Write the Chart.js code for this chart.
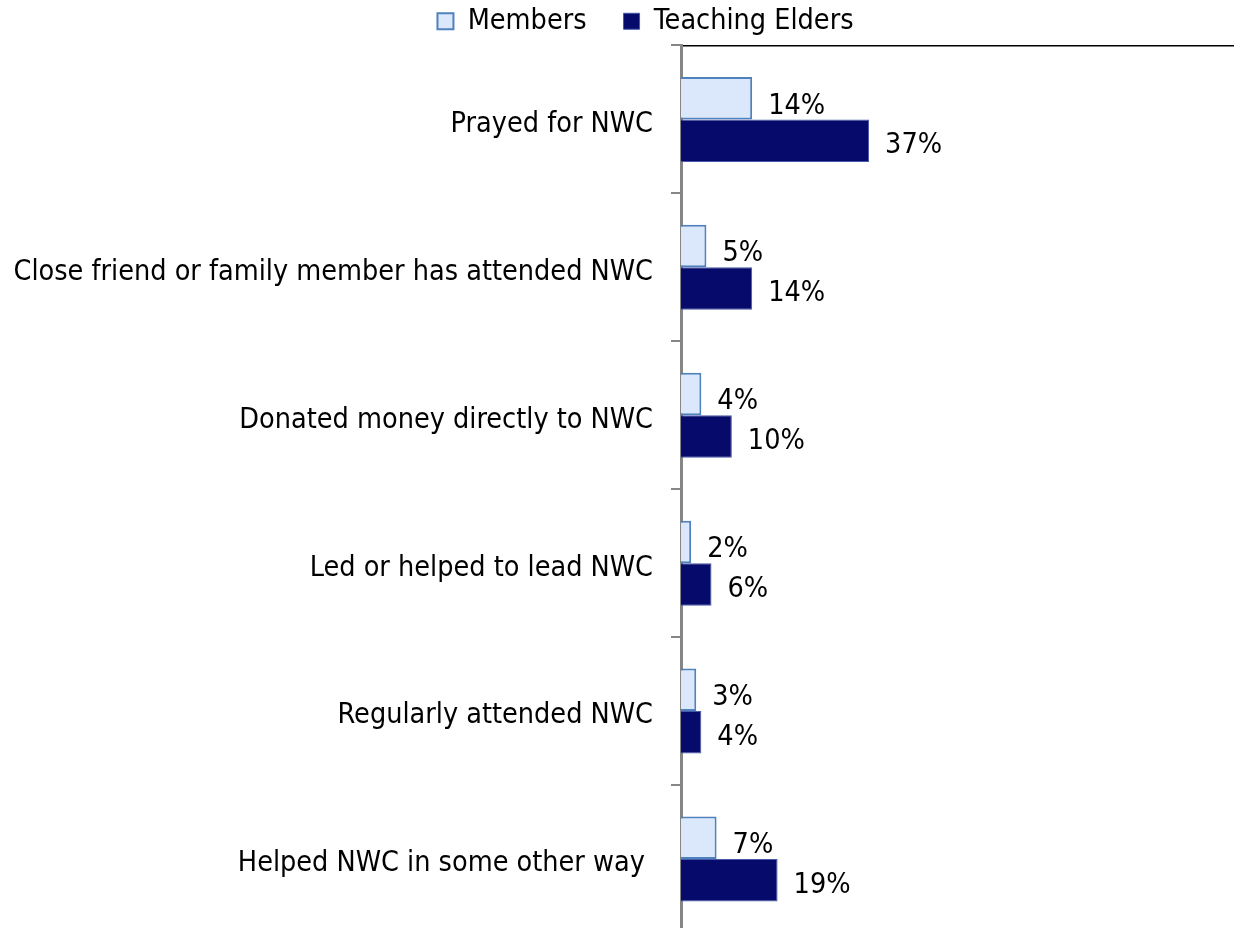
<!DOCTYPE html>
<html>
<head>
<meta charset="utf-8">
<script src="https://cdn.jsdelivr.net/npm/chart.js@4/dist/chart.umd.min.js"></script>
<style>
  html, body { margin: 0; padding: 0; background: #fff; overflow: hidden; }
  #wrap { width: 1291px; height: 998px; margin-top: -30px; }
</style>
</head>
<body>
<div id="wrap"><canvas id="myChart" width="1291" height="998"></canvas></div>
<script>
const categories = [
  "Prayed for NWC",
  "Close friend or family member has attended NWC",
  "Donated money directly to NWC",
  "Led or helped to lead NWC",
  "Regularly attended NWC",
  "Helped NWC in some other way ",
];
const members = [14, 5, 4, 2, 3, 7];
const teachingElders = [37, 14, 10, 6, 4, 19];

const FONT = "'DejaVu Sans Condensed', 'DejaVu Sans', sans-serif";
const FONT_SIZE = 28.5;

// percentage labels to the right of each bar
const valueLabels = {
  id: "valueLabels",
  afterDatasetsDraw(chart) {
    const ctx = chart.ctx;
    ctx.save();
    ctx.font = `${FONT_SIZE}px ${FONT}`;
    ctx.fillStyle = "#000";
    ctx.textAlign = "left";
    ctx.textBaseline = "middle";
    chart.data.datasets.forEach((ds, i) => {
      const meta = chart.getDatasetMeta(i);
      meta.data.forEach((bar, j) => {
        const dy = i === 0 ? 8 : 5;
        ctx.fillText(ds.data[j] + "%", bar.x + 16, bar.y + dy);
      });
    });
    ctx.restore();
  },
};

new Chart(document.getElementById("myChart"), {
  type: "bar",
  data: {
    labels: categories,
    datasets: [
      {
        label: "Members",
        data: members,
        backgroundColor: "#DBE8FB",
        borderColor: "#4F81BD",
        borderWidth: 2,
        barPercentage: 1,
        categoryPercentage: 0.575,
      },
      {
        label: "Teaching Elders",
        data: teachingElders,
        backgroundColor: "#050A6B",
        borderColor: "#4858A8",
        borderWidth: 1,
        barPercentage: 1,
        categoryPercentage: 0.575,
      },
    ],
  },
  options: {
    indexAxis: "y",
    responsive: false,
    animation: false,
    layout: { padding: { top: 0, bottom: 7, left: 0, right: 0 } },
    plugins: {
      tooltip: { enabled: false },
      legend: {
        position: "top",
        labels: {
          color: "#000",
          boxWidth: 16,
          boxHeight: 16,
          padding: 37,
          font: { family: FONT, size: FONT_SIZE },
        },
      },
    },
    scales: {
      x: {
        position: "top",
        min: 0,
        max: 120,
        grid: { display: false, drawTicks: false },
        ticks: { display: false },
        border: { display: true, color: "#000", width: 1.5 },
      },
      y: {
        afterFit: (scale) => {
          scale.width = 681;
        },
        grid: {
          drawOnChartArea: false,
          tickLength: 10,
          color: "#868686",
          lineWidth: 2,
          offset: true,
        },
        border: { color: "#868686", width: 3 },
        ticks: {
          color: "#000",
          padding: 18,
          labelOffset: 5,
          font: { family: FONT, size: FONT_SIZE },
        },
      },
    },
  },
  plugins: [valueLabels],
});
</script>
</body>
</html>
